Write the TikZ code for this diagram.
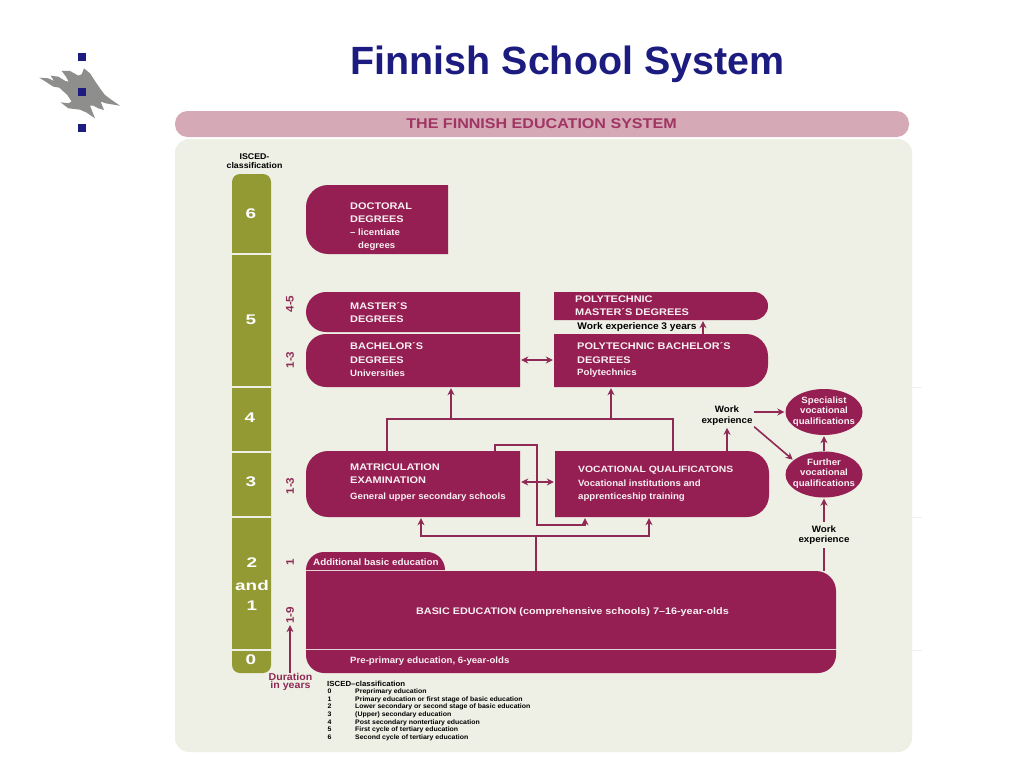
\documentclass[tikz,border=0pt]{standalone}
\usepackage{fontspec}
\usetikzlibrary{arrows.meta,shapes.geometric}
\setmainfont{Liberation Sans}
\newfontfamily\wideb[FakeStretch=1.14]{Liberation Sans Bold}
\newfontfamily\midb[FakeStretch=1.06]{Liberation Sans Bold}
\newfontfamily\digitb[FakeStretch=1.35]{Liberation Sans Bold}
\definecolor{maroon}{HTML}{951F52}
\definecolor{linec}{HTML}{8F2A55}
\definecolor{panel}{HTML}{EEEFE5}
\definecolor{pinkbar}{HTML}{D5A9B5}
\definecolor{barolive}{HTML}{939A33}
\definecolor{navy}{HTML}{1C1C80}
\definecolor{softw}{HTML}{F8F0F3}
\definecolor{flame}{HTML}{8E8E8C}
\newcommand{\fs}[2]{\fontsize{#1}{#2}\selectfont}
\tikzset{
  conn/.style={draw=linec,line width=1.6pt},
  arr/.style={conn,-{Stealth[length=7pt,width=7pt]},shorten >=1pt},
  darr/.style={conn,{Stealth[length=7pt,width=7pt]}-{Stealth[length=7pt,width=7pt]},shorten >=1pt,shorten <=1pt},
  head/.style={text=softw,anchor=west,align=left,inner sep=0pt,font=\wideb\fs{9.6}{13.3}},
  sub/.style={text=softw,anchor=west,align=left,inner sep=0pt,font=\midb\fs{9.1}{13.3}},
  ovalbox/.style={ellipse,fill=maroon,minimum width=77pt,minimum height=46pt,inner sep=0pt},
  ovaltxt/.style={text=softw,align=center,inner sep=0pt,font=\midb\fs{9.1}{10.3}},
  blk/.style={text=black,align=center,inner sep=1.5pt,font=\midb\fs{9.2}{10.6}},
  dig/.style={text=white,inner sep=0pt,font=\digitb\fs{14}{14}},
  dur/.style={text=linec,inner sep=0pt,rotate=90,font=\midb\fs{11}{11}},
  isc/.style={text=black,anchor=base west,inner sep=0pt,font=\midb\fs{6.55}{6.55}},
  sq/.style={fill=navy,minimum size=8pt,inner sep=0pt},
}
\newcommand{\mbx}[9]{%
  \pgfmathsetmacro{\xmid}{(#2+#4)/2}\pgfmathsetmacro{\ymid}{(#3+#5)/2}%
  \pgfmathsetmacro{\bwd}{#4-#2}\pgfmathsetmacro{\bht}{#5-#3}%
  \fill[maroon] (#2+#6,#3) -- (#4-#7,#3)
     .. controls (#4-0.45*#7,#3) and (#4,#3+0.45*#7) .. (#4,#3+#7)
     -- (#4,#5-#8)
     .. controls (#4,#5-0.45*#8) and (#4-0.45*#8,#5) .. (#4-#8,#5)
     -- (#2+#9,#5)
     .. controls (#2+0.45*#9,#5) and (#2,#5-0.45*#9) .. (#2,#5-#9)
     -- (#2,#3+#6)
     .. controls (#2,#3+0.45*#6) and (#2+0.45*#6,#3) .. (#2+#6,#3) -- cycle;
  \node[minimum width=\bwd pt,minimum height=\bht pt,inner sep=0pt] (#1) at (\xmid,\ymid) {};%
}
\begin{document}
\begin{tikzpicture}[x=1pt,y=-1pt]
\useasboundingbox (0,0) rectangle (1024,768);
\fill[white] (0,0) rectangle (1024,768);
% title
\node[text=navy,inner sep=0pt,font=\bfseries\fs{39.4}{39.4}] (title) at (567.5,64) {Finnish School System};
% logo
\begin{scope}[shift={(30,45)},x=.3333pt,y=-.3333pt]
\fill[flame,line join=round] (28,98)--(55,100)--(72,108)--(62,92)--(85,95)--(106,108)--(116,110)--(108,95)--(95,78)--(120,78)--(145,92)--(155,88)--(162,70)--(180,85)--(195,108)--(210,130)--(225,150)--(245,165)--(270,182)--(245,178)--(228,175)--(212,170)--(222,195)--(205,190)--(190,182)--(180,182)--(195,220)--(170,203)--(150,194)--(115,190)--(92,172)--(115,175)--(125,170)--(112,150)--(88,128)--(70,125)--(50,112)--cycle;
\end{scope}
\node[sq] (b1) at (82,57) {};
\node[sq] (b2) at (82,92) {};
\node[sq] (b3) at (82,128) {};
% panels
\fill[pinkbar,rounded corners=12.5pt] (175,111) rectangle (909,137);
\node[text=maroon!90!white,inner sep=0pt,font=\wideb\fs{14.1}{14.1}] (bartitle) at (541.5,123.5) {THE FINNISH EDUCATION SYSTEM};
\fill[panel,rounded corners=14pt] (175,139) rectangle (912,752);
\foreach \yy in {387,517,650} \draw[black!6,line width=.8pt] (912,\yy) -- (922,\yy);
% ISCED bar
\node[text=black,align=center,inner sep=0pt,font=\midb\fs{8.3}{8.8}] (isced) at (254.5,161.5) {ISCED-\\classification};
\fill[barolive,rounded corners=8pt] (232,174) rectangle (271,673);
\foreach \yy in {254,387,452,517,650} \draw[panel,line width=1.2pt] (232,\yy) -- (271,\yy);
\node[dig] (d6) at (251,214) {6};
\node[dig] (d5) at (251,320) {5};
\node[dig] (d4) at (250,418) {4};
\node[dig] (d3) at (251,482) {3};
\node[dig] (d2) at (252,563) {2};
\node[dig] (dand) at (252,585) {and};
\node[dig] (d1) at (252,606) {1};
\node[dig] (d0) at (251,660) {0};
% duration labels
\node[dur] (y45) at (290,304) {4-5};
\node[dur] (y13a) at (290,360) {1-3};
\node[dur] (y13b) at (290,486) {1-3};
\node[dur] (y1) at (290,562) {1};
\node[dur] (y19) at (290,615.5) {1-9};
\node[text=linec,align=center,inner sep=0pt,font=\midb\fs{10}{8.6}] (durtxt) at (290.5,682) {Duration\\in years};
\draw[arr] (y19.west |- durtxt.north) -- (y19.west);
% boxes
\mbx{doc}{306}{185}{448}{254}{22}{0}{0}{22}
\mbx{mas}{306}{292}{520}{332}{20}{0}{0}{20}
\mbx{bach}{306}{334}{520}{387}{20}{0}{0}{20}
\mbx{pmas}{554}{292}{768}{320}{0}{14}{14}{0}
\mbx{pbach}{554}{334}{768}{387}{0}{22}{22}{0}
\mbx{mat}{306}{451}{520}{517}{22}{0}{0}{22}
\mbx{voc}{555}{451}{769}{517}{0}{22}{22}{0}
\mbx{add}{306}{552}{445}{570}{18}{18}{0}{0}
\mbx{bas}{306}{571}{836}{649}{0}{20}{0}{0}
\mbx{pre}{306}{650}{836}{673}{0}{0}{18}{18}
\node[ovalbox] (spec) at (824,412) {};
\node[ovalbox] (fur) at (824,474.5) {};
% box text
\node[head] (tdoc) at (350,213) {DOCTORAL\\DEGREES};
\node[sub] (tdoc2) at (350,239.5) {– licentiate\\\ \ \ degrees};
\node[head] (tmas) at (350,312.5) {MASTER´S\\DEGREES};
\node[head] (tbach) at (350,353) {BACHELOR´S\\DEGREES};
\node[sub] (tuni) at (350,373.5) {Universities};
\node[head] (tpmas) at (575,305.5) {POLYTECHNIC\\MASTER´S DEGREES};
\node[head] (tpbach) at (577,353) {POLYTECHNIC BACHELOR´S\\DEGREES};
\node[sub] (tpoly) at (577,373.5) {Polytechnics};
\node[head] (tmat) at (350,474) {MATRICULATION\\EXAMINATION};
\node[sub] (tgen) at (350,497) {General upper secondary schools};
\node[head,font=\wideb\fs{9.1}{9.1}] (tvoc) at (578,470.5) {VOCATIONAL QUALIFICATONS};
\node[sub] (tvoc2) at (578,490.5) {Vocational institutions and\\apprenticeship training};
\node[sub,font=\midb\fs{9.3}{9.3}] (tadd) at (313,562) {Additional basic education};
\node[head,anchor=center,font=\wideb\fs{9.5}{9.5}] (tbas) at (572.5,612) {BASIC EDUCATION (comprehensive schools) 7–16-year-olds};
\node[sub] (tpre) at (350,661) {Pre-primary education, 6-year-olds};
\node[ovaltxt] (tspec) at (824,411.5) {Specialist\\vocational\\qualifications};
\node[ovaltxt] (tfur) at (824,473.5) {Further\\vocational\\qualifications};
% black labels
\node[blk,font=\midb\fs{9.6}{9.6}] (w3) at (637,327) {Work experience 3 years};
\node[blk] (w1) at (727,415.5) {Work\\experience};
\node[blk,inner sep=3pt] (w2) at (824,535) {Work\\experience};
% connectors
\coordinate (cb) at (537,360);
\coordinate (cm) at (537,482);
\draw[darr] (bach.east |- cb) -- (pbach.west |- cb);
\draw[darr] (mat.east |- cm) -- (voc.west |- cm);
\coordinate (pm) at (703,327);
\draw[arr] (pbach.north -| pm) -- (pmas.south -| pm);
\coordinate (mL) at (387,419);
\coordinate (mR) at (673,419);
\coordinate (ub) at (451,419);
\coordinate (upb) at (611,419);
\draw[conn] (mat.north -| mL) -- (mL) -- (mR) -- (voc.north -| mR);
\draw[arr] (ub) -- (bach.south -| ub);
\draw[arr] (upb) -- (pbach.south -| upb);
\coordinate (hL) at (421,536);
\coordinate (hM) at (536,536);
\coordinate (hR) at (649,536);
\draw[conn] (bas.north -| hM) -- (hM);
\draw[arr] (hM) -- (hL) -- (mat.south -| hL);
\draw[arr] (hM) -- (hR) -- (voc.south -| hR);
\coordinate (s1) at (495,445);
\coordinate (s2) at (537,445);
\coordinate (s3) at (537,525);
\coordinate (s4) at (585,525);
\draw[arr] (mat.north -| s1) -- (s1) -- (s2) -- (s3) -- (s4) -- (voc.south -| s4);
\draw[arr] (voc.north -| w1) -- (w1.south);
\draw[arr] (w1.east |- spec) -- (spec.west);
\draw[arr] (w1.south east) -- (fur.155);
\draw[arr] (fur.north) -- (spec.south);
\draw[arr] (w2.north) -- (fur.south);
\draw[conn] (bas.north -| w2) -- (w2.south);
% ISCED legend
\node[isc,font=\midb\fs{7.4}{7.4}] (ih) at (327,686) {ISCED–classification};
\node[isc] (n0) at (327.5,693.3) {0}; \node[isc] (l0) at (355,693.3) {Preprimary education};
\node[isc] (n1) at (327.5,701) {1}; \node[isc] (l1) at (355,701) {Primary education or first stage of basic education};
\node[isc] (n2) at (327.5,708.7) {2}; \node[isc] (l2) at (355,708.7) {Lower secondary or second stage of basic education};
\node[isc] (n3) at (327.5,716.4) {3}; \node[isc] (l3) at (355,716.4) {(Upper) secondary education};
\node[isc] (n4) at (327.5,724) {4}; \node[isc] (l4) at (355,724) {Post secondary nontertiary education};
\node[isc] (n5) at (327.5,731.5) {5}; \node[isc] (l5) at (355,731.5) {First cycle of tertiary education};
\node[isc] (n6) at (327.5,739.2) {6}; \node[isc] (l6) at (355,739.2) {Second cycle of tertiary education};
\end{tikzpicture}
\end{document}
